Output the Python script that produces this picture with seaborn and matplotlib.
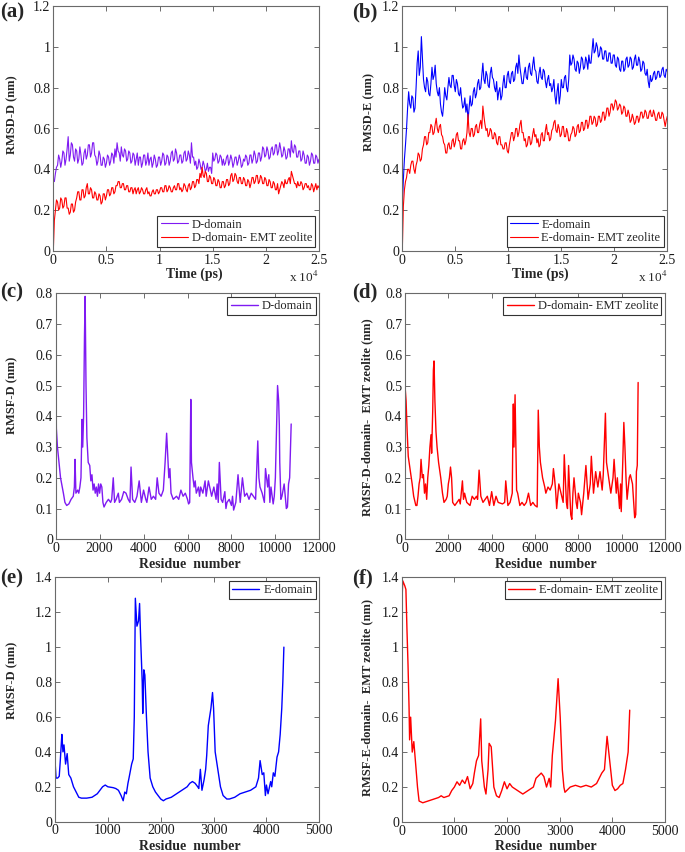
import numpy as np
import matplotlib
matplotlib.use("Agg")
import matplotlib.pyplot as plt
from matplotlib.ticker import FuncFormatter, MultipleLocator
import seaborn as sns

# ---------------- data ----------------
time_ps = np.arange(0, 25001, 100)

rmsd_d_free = [
    0.35, 0.34, 0.38, 0.41, 0.42, 0.47, 0.45, 0.41, 0.44, 0.49, 0.48, 0.42, 0.45, 0.50, 0.56, 0.44, 0.47, 0.53, 0.52, 0.46,
    0.44, 0.50, 0.49, 0.43, 0.45, 0.51, 0.47, 0.42, 0.43, 0.48, 0.50, 0.45, 0.47, 0.52, 0.52, 0.46, 0.48, 0.53, 0.53, 0.47,
    0.46, 0.42, 0.44, 0.49, 0.47, 0.42, 0.42, 0.46, 0.45, 0.41, 0.43, 0.47, 0.46, 0.42, 0.44, 0.48, 0.47, 0.43, 0.50, 0.46,
    0.53, 0.49, 0.48, 0.44, 0.51, 0.47, 0.46, 0.50, 0.49, 0.44, 0.45, 0.49, 0.48, 0.43, 0.44, 0.48, 0.47, 0.42, 0.45, 0.48,
    0.42, 0.46, 0.46, 0.41, 0.43, 0.47, 0.47, 0.42, 0.44, 0.48, 0.42, 0.45, 0.46, 0.41, 0.43, 0.47, 0.45, 0.41, 0.42, 0.46,
    0.46, 0.42, 0.44, 0.48, 0.47, 0.42, 0.43, 0.47, 0.46, 0.42, 0.44, 0.48, 0.49, 0.44, 0.45, 0.50, 0.48, 0.43, 0.44, 0.47,
    0.47, 0.43, 0.44, 0.48, 0.49, 0.44, 0.45, 0.49, 0.47, 0.43, 0.53, 0.46, 0.46, 0.42, 0.44, 0.40, 0.41, 0.45, 0.43, 0.40,
    0.41, 0.44, 0.42, 0.39, 0.40, 0.43, 0.39, 0.41, 0.41, 0.38, 0.48, 0.44, 0.45, 0.48, 0.47, 0.43, 0.44, 0.47, 0.46, 0.42,
    0.45, 0.42, 0.43, 0.46, 0.47, 0.42, 0.44, 0.47, 0.45, 0.41, 0.43, 0.46, 0.46, 0.42, 0.44, 0.47, 0.45, 0.41, 0.42, 0.45,
    0.44, 0.47, 0.46, 0.42, 0.43, 0.47, 0.47, 0.43, 0.45, 0.49, 0.47, 0.43, 0.44, 0.48, 0.48, 0.44, 0.46, 0.51, 0.50, 0.46,
    0.47, 0.51, 0.49, 0.45, 0.46, 0.50, 0.51, 0.47, 0.48, 0.52, 0.52, 0.47, 0.49, 0.53, 0.50, 0.46, 0.47, 0.51, 0.49, 0.45,
    0.46, 0.50, 0.50, 0.46, 0.54, 0.49, 0.48, 0.52, 0.51, 0.46, 0.46, 0.49, 0.49, 0.44, 0.45, 0.49, 0.47, 0.43, 0.43, 0.47,
    0.46, 0.42, 0.44, 0.48, 0.47, 0.43, 0.43, 0.47, 0.46, 0.43, 0.45]

rmsd_d_emt = [
    0.00, 0.15, 0.20, 0.25, 0.24, 0.20, 0.21, 0.26, 0.25, 0.21, 0.22, 0.26, 0.26, 0.21, 0.21, 0.18, 0.19, 0.23, 0.23, 0.19,
    0.20, 0.24, 0.26, 0.29, 0.29, 0.25, 0.25, 0.30, 0.30, 0.26, 0.27, 0.31, 0.33, 0.28, 0.28, 0.31, 0.30, 0.26, 0.26, 0.29,
    0.28, 0.25, 0.25, 0.28, 0.27, 0.23, 0.24, 0.28, 0.28, 0.25, 0.27, 0.30, 0.30, 0.27, 0.28, 0.31, 0.31, 0.28, 0.29, 0.32,
    0.32, 0.34, 0.34, 0.31, 0.31, 0.33, 0.33, 0.30, 0.30, 0.32, 0.32, 0.29, 0.29, 0.31, 0.31, 0.28, 0.30, 0.31, 0.28, 0.30,
    0.31, 0.28, 0.29, 0.31, 0.30, 0.28, 0.28, 0.30, 0.31, 0.28, 0.29, 0.27, 0.27, 0.29, 0.30, 0.28, 0.28, 0.30, 0.30, 0.28,
    0.29, 0.31, 0.31, 0.29, 0.29, 0.32, 0.32, 0.29, 0.30, 0.32, 0.31, 0.29, 0.29, 0.31, 0.32, 0.30, 0.30, 0.33, 0.33, 0.30,
    0.31, 0.29, 0.30, 0.33, 0.32, 0.30, 0.29, 0.32, 0.33, 0.30, 0.31, 0.34, 0.34, 0.31, 0.32, 0.35, 0.35, 0.33, 0.38, 0.36,
    0.41, 0.37, 0.36, 0.39, 0.38, 0.34, 0.34, 0.37, 0.36, 0.33, 0.33, 0.36, 0.35, 0.32, 0.32, 0.35, 0.34, 0.31, 0.31, 0.34,
    0.34, 0.31, 0.32, 0.35, 0.35, 0.32, 0.33, 0.37, 0.38, 0.34, 0.35, 0.38, 0.37, 0.34, 0.33, 0.36, 0.36, 0.33, 0.33, 0.36,
    0.35, 0.32, 0.32, 0.35, 0.34, 0.31, 0.33, 0.36, 0.36, 0.33, 0.34, 0.37, 0.37, 0.33, 0.34, 0.37, 0.36, 0.33, 0.33, 0.36,
    0.35, 0.32, 0.32, 0.35, 0.34, 0.31, 0.31, 0.34, 0.33, 0.30, 0.30, 0.33, 0.28, 0.30, 0.32, 0.34, 0.33, 0.31, 0.35, 0.33,
    0.33, 0.35, 0.36, 0.33, 0.39, 0.37, 0.35, 0.33, 0.33, 0.31, 0.34, 0.32, 0.32, 0.34, 0.33, 0.30, 0.31, 0.33, 0.33, 0.31,
    0.32, 0.30, 0.30, 0.33, 0.32, 0.29, 0.31, 0.33, 0.30, 0.32, 0.31]

rmsd_e_free = [
    0.22, 0.35, 0.45, 0.52, 0.60, 0.70, 0.78, 0.72, 0.70, 0.76, 0.75, 0.68, 0.70, 0.80, 0.92, 0.98, 0.86, 0.90, 1.05, 0.95,
    0.84, 0.80, 0.78, 0.85, 0.83, 0.77, 0.76, 0.82, 0.90, 0.84, 0.86, 0.91, 0.82, 0.78, 0.76, 0.80, 0.72, 0.68, 0.66, 0.72,
    0.80, 0.76, 0.74, 0.80, 0.85, 0.81, 0.80, 0.86, 0.86, 0.81, 0.78, 0.84, 0.82, 0.77, 0.76, 0.80, 0.74, 0.70, 0.71, 0.75,
    0.68, 0.72, 0.64, 0.70, 0.76, 0.71, 0.72, 0.78, 0.80, 0.75, 0.77, 0.82, 0.84, 0.79, 0.80, 0.86, 0.92, 0.84, 0.82, 0.88,
    0.86, 0.81, 0.80, 0.87, 0.90, 0.85, 0.84, 0.80, 0.78, 0.83, 0.74, 0.78, 0.80, 0.74, 0.76, 0.82, 0.86, 0.80, 0.80, 0.86,
    0.88, 0.83, 0.82, 0.87, 0.88, 0.83, 0.84, 0.90, 0.92, 0.87, 0.96, 0.90, 0.86, 0.82, 0.82, 0.87, 0.90, 0.85, 0.84, 0.90,
    0.92, 0.87, 0.86, 0.91, 0.95, 0.89, 0.88, 0.83, 0.82, 0.87, 0.90, 0.85, 0.84, 0.89, 0.88, 0.83, 0.80, 0.84, 0.86, 0.81,
    0.82, 0.78, 0.80, 0.84, 0.76, 0.72, 0.78, 0.82, 0.72, 0.76, 0.84, 0.80, 0.80, 0.85, 0.86, 0.80, 0.78, 0.84, 0.96, 0.91,
    0.92, 0.96, 0.94, 0.89, 0.88, 0.93, 0.92, 0.87, 0.90, 0.95, 0.94, 0.89, 0.90, 0.95, 0.93, 0.89, 0.96, 0.92, 0.92, 0.98,
    1.04, 0.97, 0.98, 1.02, 1.00, 0.95, 0.96, 1.00, 0.99, 0.94, 0.94, 0.98, 0.98, 0.93, 0.93, 0.97, 0.97, 0.92, 0.92, 0.96,
    0.96, 0.91, 0.90, 0.95, 0.94, 0.89, 0.88, 0.93, 0.93, 0.88, 0.89, 0.94, 0.95, 0.90, 0.91, 0.95, 0.94, 0.89, 0.90, 0.94,
    0.96, 0.91, 0.91, 0.95, 0.93, 0.88, 0.89, 0.93, 0.92, 0.87, 0.86, 0.89, 0.83, 0.80, 0.86, 0.83, 0.84, 0.87, 0.88, 0.84,
    0.85, 0.88, 0.88, 0.85, 0.86, 0.89, 0.90, 0.86, 0.85, 0.89, 0.88]

rmsd_e_emt = [
    0.00, 0.22, 0.30, 0.34, 0.36, 0.40, 0.40, 0.38, 0.42, 0.44, 0.44, 0.40, 0.38, 0.42, 0.44, 0.48, 0.47, 0.44, 0.45, 0.50,
    0.52, 0.56, 0.56, 0.52, 0.53, 0.58, 0.58, 0.62, 0.61, 0.57, 0.58, 0.62, 0.65, 0.60, 0.58, 0.61, 0.62, 0.57, 0.56, 0.53,
    0.52, 0.48, 0.48, 0.52, 0.53, 0.50, 0.50, 0.54, 0.55, 0.51, 0.53, 0.57, 0.58, 0.54, 0.54, 0.50, 0.50, 0.54, 0.55, 0.52,
    0.54, 0.58, 0.67, 0.58, 0.56, 0.60, 0.60, 0.56, 0.57, 0.61, 0.62, 0.58, 0.58, 0.62, 0.64, 0.60, 0.71, 0.66, 0.62, 0.59,
    0.60, 0.56, 0.57, 0.60, 0.59, 0.55, 0.55, 0.58, 0.57, 0.53, 0.52, 0.56, 0.56, 0.52, 0.52, 0.50, 0.50, 0.53, 0.53, 0.49,
    0.48, 0.52, 0.55, 0.58, 0.58, 0.54, 0.56, 0.60, 0.60, 0.56, 0.58, 0.62, 0.64, 0.58, 0.58, 0.54, 0.55, 0.51, 0.52, 0.56,
    0.56, 0.52, 0.53, 0.57, 0.60, 0.56, 0.57, 0.53, 0.55, 0.51, 0.52, 0.57, 0.58, 0.54, 0.54, 0.59, 0.62, 0.57, 0.58, 0.54,
    0.55, 0.59, 0.60, 0.63, 0.64, 0.59, 0.58, 0.62, 0.60, 0.56, 0.57, 0.61, 0.61, 0.56, 0.56, 0.60, 0.58, 0.54, 0.54, 0.57,
    0.58, 0.61, 0.60, 0.56, 0.57, 0.61, 0.62, 0.58, 0.59, 0.63, 0.63, 0.59, 0.60, 0.64, 0.64, 0.60, 0.62, 0.66, 0.66, 0.62,
    0.63, 0.66, 0.65, 0.61, 0.62, 0.66, 0.66, 0.63, 0.64, 0.68, 0.68, 0.64, 0.66, 0.70, 0.70, 0.66, 0.68, 0.72, 0.72, 0.69,
    0.71, 0.74, 0.73, 0.69, 0.70, 0.72, 0.71, 0.67, 0.68, 0.71, 0.70, 0.66, 0.66, 0.69, 0.67, 0.63, 0.64, 0.67, 0.65, 0.62,
    0.63, 0.66, 0.66, 0.63, 0.65, 0.68, 0.68, 0.65, 0.66, 0.69, 0.68, 0.65, 0.65, 0.68, 0.69, 0.66, 0.66, 0.69, 0.67, 0.64,
    0.64, 0.67, 0.68, 0.65, 0.65, 0.68, 0.67, 0.64, 0.61, 0.64, 0.66]

rmsf_d_free = [
    (0, 0.60), (30, 0.36), (80, 0.30), (150, 0.25), (220, 0.20), (300, 0.17), (350, 0.15),
    (420, 0.12), (500, 0.11), (600, 0.115), (700, 0.13), (800, 0.14), (850, 0.17), (880, 0.26),
    (920, 0.15), (1000, 0.16), (1050, 0.15), (1100, 0.17), (1150, 0.20), (1200, 0.39), (1230, 0.30),
    (1270, 0.40), (1310, 0.66), (1340, 0.79), (1380, 0.50), (1420, 0.33), (1480, 0.25), (1550, 0.24),
    (1600, 0.19), (1650, 0.21), (1700, 0.16), (1750, 0.18), (1800, 0.15), (1850, 0.17), (1900, 0.14),
    (1950, 0.18), (2000, 0.15), (2050, 0.18), (2100, 0.17), (2150, 0.12), (2200, 0.105), (2300, 0.12),
    (2400, 0.13), (2500, 0.12), (2550, 0.13), (2620, 0.20), (2680, 0.12), (2750, 0.13), (2850, 0.15),
    (2900, 0.12), (3000, 0.13), (3100, 0.155), (3200, 0.15), (3300, 0.13), (3380, 0.12), (3430, 0.235),
    (3500, 0.13), (3600, 0.12), (3700, 0.14), (3800, 0.19), (3900, 0.12), (4000, 0.16), (4100, 0.13),
    (4150, 0.12), (4250, 0.17), (4350, 0.13), (4450, 0.14), (4550, 0.13), (4620, 0.20), (4700, 0.15),
    (4800, 0.14), (4900, 0.16), (4980, 0.25), (5050, 0.345), (5100, 0.27), (5150, 0.20), (5200, 0.23),
    (5250, 0.15), (5350, 0.13), (5500, 0.14), (5600, 0.13), (5700, 0.16), (5800, 0.14), (5900, 0.15),
    (6000, 0.13), (6050, 0.115), (6100, 0.12), (6150, 0.455), (6180, 0.25), (6250, 0.20), (6300, 0.17),
    (6350, 0.19), (6400, 0.15), (6500, 0.17), (6550, 0.14), (6600, 0.17), (6700, 0.15), (6800, 0.19),
    (6850, 0.14), (6950, 0.19), (7100, 0.14), (7200, 0.17), (7300, 0.13), (7350, 0.18), (7400, 0.12),
    (7450, 0.25), (7530, 0.13), (7600, 0.12), (7700, 0.155), (7750, 0.10), (7800, 0.12), (7900, 0.13),
    (8000, 0.11), (8050, 0.14), (8100, 0.095), (8200, 0.12), (8300, 0.21), (8400, 0.12), (8500, 0.20),
    (8600, 0.14), (8700, 0.15), (8800, 0.13), (8900, 0.15), (9000, 0.14), (9100, 0.13), (9200, 0.32),
    (9250, 0.20), (9300, 0.17), (9400, 0.15), (9500, 0.12), (9550, 0.23), (9650, 0.17), (9700, 0.21),
    (9750, 0.12), (9800, 0.17), (9900, 0.115), (9950, 0.14), (10000, 0.20), (10050, 0.35),
    (10100, 0.50), (10150, 0.45), (10180, 0.37), (10200, 0.25), (10250, 0.13), (10300, 0.14),
    (10400, 0.18), (10450, 0.14), (10500, 0.10), (10550, 0.105), (10600, 0.18), (10650, 0.20),
    (10720, 0.375)]

rmsf_d_emt = [
    (0, 0.50), (50, 0.45), (100, 0.35), (150, 0.27), (250, 0.22), (330, 0.18), (400, 0.14),
    (500, 0.11), (550, 0.11), (600, 0.14), (650, 0.18), (700, 0.20), (740, 0.26), (800, 0.20),
    (850, 0.21), (900, 0.15), (950, 0.18), (1000, 0.13), (1050, 0.20), (1100, 0.24), (1150, 0.30),
    (1200, 0.34), (1230, 0.28), (1280, 0.42), (1310, 0.55), (1340, 0.58), (1380, 0.45), (1430, 0.35),
    (1480, 0.30), (1550, 0.25), (1650, 0.20), (1730, 0.15), (1800, 0.12), (1900, 0.13), (1950, 0.14),
    (2000, 0.18), (2050, 0.20), (2100, 0.235), (2150, 0.20), (2200, 0.12), (2300, 0.11), (2400, 0.12),
    (2500, 0.13), (2550, 0.115), (2650, 0.19), (2700, 0.13), (2750, 0.15), (2850, 0.12), (3000, 0.11),
    (3100, 0.14), (3200, 0.13), (3300, 0.14), (3350, 0.13), (3420, 0.225), (3500, 0.14), (3600, 0.12),
    (3700, 0.13), (3800, 0.14), (3900, 0.11), (4000, 0.155), (4100, 0.11), (4200, 0.14), (4300, 0.12),
    (4500, 0.115), (4600, 0.12), (4650, 0.19), (4750, 0.11), (4850, 0.12), (4950, 0.15), (4980, 0.35),
    (5000, 0.44), (5030, 0.30), (5080, 0.47), (5120, 0.30), (5150, 0.16), (5200, 0.15), (5300, 0.11),
    (5400, 0.12), (5500, 0.11), (5600, 0.12), (5700, 0.15), (5800, 0.11), (5900, 0.12), (6000, 0.11),
    (6100, 0.105), (6150, 0.42), (6200, 0.30), (6250, 0.25), (6350, 0.20), (6450, 0.17), (6500, 0.15),
    (6600, 0.17), (6700, 0.16), (6800, 0.18), (6850, 0.23), (6900, 0.20), (6950, 0.16), (7000, 0.10),
    (7100, 0.18), (7200, 0.15), (7300, 0.12), (7350, 0.275), (7450, 0.12), (7500, 0.10), (7550, 0.24),
    (7650, 0.08), (7700, 0.065), (7750, 0.15), (7800, 0.20), (7900, 0.12), (7950, 0.10), (8000, 0.15),
    (8100, 0.12), (8150, 0.08), (8250, 0.15), (8350, 0.24), (8450, 0.13), (8550, 0.18), (8600, 0.27),
    (8700, 0.15), (8800, 0.22), (8900, 0.17), (9000, 0.22), (9100, 0.16), (9150, 0.21), (9250, 0.41),
    (9300, 0.25), (9400, 0.20), (9500, 0.15), (9600, 0.20), (9650, 0.26), (9750, 0.15), (9800, 0.20),
    (9900, 0.10), (9950, 0.18), (9980, 0.09), (10050, 0.25), (10100, 0.38), (10150, 0.30),
    (10200, 0.20), (10250, 0.13), (10350, 0.20), (10400, 0.21), (10500, 0.18), (10600, 0.07),
    (10650, 0.08), (10680, 0.22), (10720, 0.24), (10760, 0.51)]

rmsf_e_free = [
    (0, 0.35), (20, 0.25), (50, 0.25), (80, 0.26), (100, 0.35), (120, 0.45), (130, 0.50),
    (150, 0.40), (170, 0.44), (200, 0.33), (230, 0.39), (260, 0.27), (300, 0.25), (350, 0.20),
    (400, 0.17), (450, 0.14), (500, 0.135), (600, 0.135), (700, 0.14), (800, 0.16), (850, 0.18),
    (900, 0.20), (950, 0.21), (1000, 0.20), (1100, 0.195), (1150, 0.19), (1200, 0.18), (1250, 0.15),
    (1290, 0.12), (1320, 0.17), (1350, 0.16), (1380, 0.22), (1400, 0.25), (1450, 0.33), (1480, 0.36),
    (1500, 0.60), (1520, 1.28), (1550, 1.12), (1580, 1.15), (1600, 1.25), (1620, 1.05), (1650, 0.80),
    (1660, 0.62), (1680, 0.87), (1700, 0.84), (1730, 0.60), (1760, 0.40), (1800, 0.25), (1850, 0.20),
    (1900, 0.17), (1950, 0.15), (2000, 0.13), (2050, 0.12), (2100, 0.13), (2200, 0.14), (2300, 0.16),
    (2400, 0.18), (2500, 0.20), (2550, 0.22), (2600, 0.23), (2650, 0.22), (2700, 0.20), (2720, 0.19),
    (2750, 0.30), (2780, 0.18), (2820, 0.24), (2850, 0.30), (2870, 0.38), (2900, 0.55), (2950, 0.65),
    (2980, 0.74), (3000, 0.65), (3030, 0.40), (3080, 0.30), (3130, 0.20), (3180, 0.15), (3250, 0.13),
    (3300, 0.13), (3400, 0.14), (3500, 0.16), (3600, 0.17), (3700, 0.18), (3800, 0.20), (3850, 0.25),
    (3880, 0.35), (3920, 0.27), (3950, 0.28), (3980, 0.15), (4000, 0.21), (4030, 0.16), (4080, 0.23),
    (4100, 0.20), (4130, 0.28), (4160, 0.26), (4200, 0.37), (4230, 0.40), (4260, 0.50), (4290, 0.65),
    (4310, 0.80), (4330, 1.00)]

rmsf_e_emt = [
    (0, 1.22), (20, 1.38), (60, 1.35), (80, 1.33), (100, 1.10), (120, 0.90), (140, 0.65),
    (150, 0.47), (170, 0.60), (200, 0.40), (230, 0.46), (260, 0.35), (300, 0.20), (330, 0.12),
    (400, 0.11), (500, 0.12), (600, 0.13), (700, 0.14), (750, 0.15), (800, 0.14), (900, 0.15),
    (950, 0.18), (1000, 0.20), (1050, 0.23), (1100, 0.21), (1150, 0.24), (1200, 0.22), (1250, 0.26),
    (1300, 0.19), (1350, 0.22), (1380, 0.28), (1420, 0.35), (1460, 0.38), (1500, 0.59), (1520, 0.35),
    (1570, 0.20), (1600, 0.16), (1640, 0.30), (1660, 0.45), (1700, 0.43), (1750, 0.20), (1800, 0.15),
    (1850, 0.14), (1900, 0.18), (1950, 0.23), (2000, 0.19), (2050, 0.22), (2100, 0.20), (2200, 0.18),
    (2300, 0.16), (2400, 0.18), (2500, 0.20), (2550, 0.25), (2650, 0.28), (2700, 0.26), (2750, 0.20),
    (2800, 0.25), (2830, 0.20), (2860, 0.38), (2920, 0.58), (2970, 0.82), (3010, 0.60), (3050, 0.30),
    (3080, 0.20), (3100, 0.17), (3200, 0.20), (3300, 0.21), (3400, 0.20), (3500, 0.21), (3600, 0.20),
    (3700, 0.22), (3800, 0.28), (3850, 0.30), (3900, 0.49), (3950, 0.35), (4000, 0.21), (4050, 0.18),
    (4100, 0.19), (4150, 0.21), (4200, 0.22), (4250, 0.30), (4300, 0.40), (4330, 0.64)]

labels_d = ["D-domain", "D-domain- EMT zeolite"]
labels_e = ["E-domain", "E-domain- EMT zeolite"]
PURPLE, RED, BLUE = "#7F1AF2", "#FF0000", "#0000FF"

# ---------------- style ----------------
sns.set_theme(style="ticks")
plt.rcParams['font.family'] = ['Liberation Serif', 'DejaVu Serif']
plt.rcParams['mathtext.fontset'] = 'stix'

W, H = 685, 852
fig = plt.figure(figsize=(W / 100, H / 100), dpi=100)


def add_ax(l, t, r, b):
    return fig.add_axes([l / W, 1 - b / H, (r - l) / W, (b - t) / H])


def ftext(x, y, s, **kw):
    fig.text(x / W, 1 - y / H, s, **kw)


def style(ax, xlim, xstep, ylim, ystep, xscale=1.0):
    ax.set_xlim(*xlim)
    ax.set_ylim(*ylim)
    ax.xaxis.set_major_locator(MultipleLocator(xstep))
    ax.yaxis.set_major_locator(MultipleLocator(ystep))
    ax.xaxis.set_major_formatter(FuncFormatter(lambda v, p: f"{round(v / xscale, 6):g}"))
    ax.yaxis.set_major_formatter(FuncFormatter(lambda v, p: f"{round(v, 6):g}"))
    ax.tick_params(direction='in', top=True, right=True, length=3.5, width=0.6,
                   color='#555555', labelcolor='#1a1a1a', labelsize=10, pad=2)
    for s in ax.spines.values():
        s.set_color('#6a6a6a')
        s.set_linewidth(0.8)
    ax.set_xlabel('')
    ax.set_ylabel('')


def legend(ax, loc):
    lg = ax.legend(loc=loc, fontsize=9, frameon=True, fancybox=False, edgecolor='#333333',
                   framealpha=1, handlelength=2.2, handletextpad=0.3, labelspacing=0.12,
                   borderpad=0.25, borderaxespad=0.3)
    lg.get_frame().set_linewidth(0.8)


def unzip(pairs):
    return np.array([p[0] for p in pairs]), np.array([p[1] for p in pairs])


# (a)
ax = add_ax(53.3, 6, 319, 251)
sns.lineplot(x=time_ps, y=rmsd_d_free, ax=ax, color=PURPLE, lw=0.8, label=labels_d[0])
sns.lineplot(x=time_ps, y=rmsd_d_emt, ax=ax, color=RED, lw=0.8, label=labels_d[1])
style(ax, (0, 25000), 5000, (0, 1.2), 0.2, xscale=1e4)
legend(ax, 'lower right')
ax.text(1.0, -0.108, r"x 10$^{4}$", transform=ax.transAxes, ha='right', va='center', fontsize=9.5)

# (b)
ax = add_ax(402.3, 6, 667.3, 251)
sns.lineplot(x=time_ps, y=rmsd_e_free, ax=ax, color=BLUE, lw=0.8, label=labels_e[0])
sns.lineplot(x=time_ps, y=rmsd_e_emt, ax=ax, color=RED, lw=0.8, label=labels_e[1])
style(ax, (0, 25000), 5000, (0, 1.2), 0.2, xscale=1e4)
legend(ax, 'lower right')
ax.text(1.0, -0.108, r"x 10$^{4}$", transform=ax.transAxes, ha='right', va='center', fontsize=9.5)

# (c)
ax = add_ax(55.7, 293.3, 319.3, 539.3)
rx, ry = unzip(rmsf_d_free)
sns.lineplot(x=rx, y=ry, ax=ax, color=PURPLE, lw=1.0, label=labels_d[0])
style(ax, (0, 12000), 2000, (0, 0.8), 0.1)
legend(ax, 'upper right')

# (d)
ax = add_ax(405, 293.3, 665, 539.3)
rx, ry = unzip(rmsf_d_emt)
sns.lineplot(x=rx, y=ry, ax=ax, color=RED, lw=1.0, label=labels_d[1])
style(ax, (0, 12000), 2000, (0, 0.8), 0.1)
legend(ax, 'upper right')

# (e)
ax = add_ax(55, 577.3, 319.3, 821.7)
rx, ry = unzip(rmsf_e_free)
sns.lineplot(x=rx, y=ry, ax=ax, color=BLUE, lw=1.0, label=labels_e[0])
style(ax, (0, 5000), 1000, (0, 1.4), 0.2)
legend(ax, 'upper right')

# (f)
ax = add_ax(401.7, 577.3, 665, 822)
rx, ry = unzip(rmsf_e_emt)
sns.lineplot(x=rx, y=ry, ax=ax, color=RED, lw=1.0, label=labels_e[1])
style(ax, (0, 5000), 1000, (0, 1.4), 0.2)
legend(ax, 'upper right')

# axis labels
bold = dict(fontweight='bold', ha='center', va='center')
ftext(194, 274, "Time (ps)", fontsize=10, **bold)
ftext(540, 274, "Time (ps)", fontsize=10, **bold)
ftext(190, 565, "Residue  number", fontsize=10, **bold)
ftext(546, 565, "Residue  number", fontsize=10, **bold)
ftext(190, 846, "Residue  number", fontsize=10, **bold)
ftext(546, 846, "Residue  number", fontsize=10, **bold)

ftext(12, 115, "RMSD-D (nm)", fontsize=9, rotation=90, **bold)
ftext(369, 112, "RMSD-E (nm)", fontsize=9, rotation=90, **bold)
ftext(12, 395, "RMSF-D (nm)", fontsize=9, rotation=90, **bold)
ftext(367, 417, "RMSF-D-domain-  EMT zeolite (nm)", fontsize=9, rotation=90, **bold)
ftext(12, 680, "RMSF-D (nm)", fontsize=9, rotation=90, **bold)
ftext(367, 697, "RMSF-E-domain-  EMT zeolite (nm)", fontsize=9, rotation=90, **bold)

# panel letters
pl = dict(fontsize=15, fontweight='bold', ha='left', va='center')
ftext(0, 12, "(a)", **pl)
ftext(352, 12, "(b)", **pl)
ftext(0, 292, "(c)", **pl)
ftext(352, 292, "(d)", **pl)
ftext(0, 578, "(e)", **pl)
ftext(352, 578, "(f)", **pl)

fig.savefig("out.png", dpi=100)
